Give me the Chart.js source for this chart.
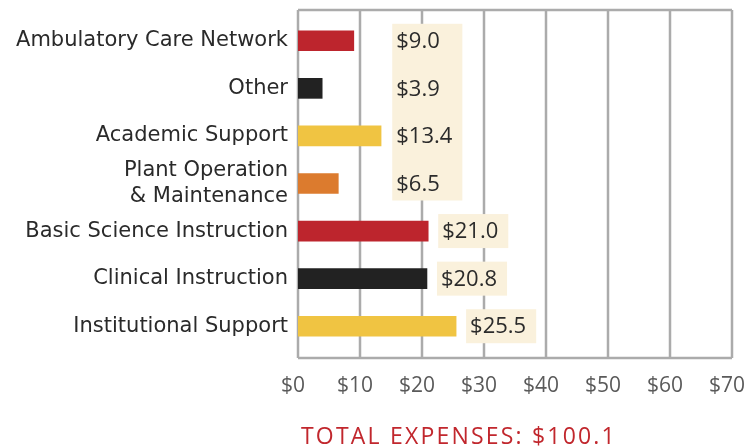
<!DOCTYPE html>
<html>
<head>
<meta charset="utf-8">
<script src="https://cdn.jsdelivr.net/npm/chart.js@4"></script>
<style>
  html, body { margin: 0; padding: 0; background: #fff; }
</style>
</head>
<body>
<canvas id="chart" width="744" height="448"></canvas>
<script>
const categories = [
  'Ambulatory Care Network',
  'Other',
  'Academic Support',
  ['Plant Operation', '& Maintenance'],
  'Basic Science Instruction',
  'Clinical Instruction',
  'Institutional Support'
];
const expenses = [9.0, 3.9, 13.4, 6.5, 21.0, 20.8, 25.5];
const barColors = ['#bd252d', '#222222', '#f0c442', '#dc7b2e', '#bd252d', '#222222', '#f0c442'];
const tickValues = [0, 10, 20, 30, 40, 50, 60, 70];
const totalLabel = 'TOTAL EXPENSES: $100.1';

const lineGray = '#ababab';
const fontFamily = '"Open Sans", sans-serif';
const frameTop = 7;     // frame runs a little past the bar band
const frameBottom = 8;

const valueBoxes = {
  id: 'valueBoxes',
  beforeDatasetsDraw(chart) {
    // grid + frame, drawn a bit taller than the category band
    const { ctx, chartArea, scales: { x } } = chart;
    const top = chartArea.top - frameTop;
    const bottom = chartArea.bottom + frameBottom;
    ctx.save();
    ctx.strokeStyle = lineGray;
    ctx.lineWidth = 2.5;
    ctx.beginPath();
    x.ticks.forEach(t => {
      const px = x.getPixelForValue(t.value);
      ctx.moveTo(px, top);
      ctx.lineTo(px, bottom);
    });
    ctx.moveTo(chartArea.left, top);
    ctx.lineTo(chartArea.right, top);
    ctx.moveTo(chartArea.left, bottom);
    ctx.lineTo(chartArea.right, bottom);
    ctx.stroke();
    ctx.restore();
  },
  afterDatasetsDraw(chart) {
    // cream boxes behind the value labels; labels that fit left of the column share one box
    const { ctx, scales: { x } } = chart;
    const bars = chart.getDatasetMeta(0).data;
    const colPx = x.getPixelForValue(15.2);
    ctx.save();
    ctx.font = '22px ' + fontFamily;
    const boxes = bars.map((bar, i) => {
      const text = '$' + expenses[i].toFixed(1);
      const left = Math.max(colPx, bar.x + 10);
      return { text, w: ctx.measureText(text).width, left, cy: bar.y, inCol: left === colPx };
    });
    ctx.fillStyle = '#faf1dc';
    let i = 0;
    while (i < boxes.length) {
      let j = i;
      if (boxes[i].inCol) {
        while (j + 1 < boxes.length && boxes[j + 1].inCol) j++;
      }
      const wMax = Math.max(...boxes.slice(i, j + 1).map(b => b.w));
      ctx.fillRect(boxes[i].left, boxes[i].cy - 17, wMax + 14, boxes[j].cy - boxes[i].cy + 34);
      i = j + 1;
    }
    ctx.fillStyle = '#2b2b2b';
    ctx.textBaseline = 'middle';
    boxes.forEach(b => ctx.fillText(b.text, b.left + 4, b.cy + 1));
    ctx.restore();
  },
  afterDraw(chart) {
    const { ctx, chartArea } = chart;
    ctx.save();
    ctx.fillStyle = '#c1272d';
    ctx.font = '23px ' + fontFamily;
    ctx.letterSpacing = '2.2px';
    ctx.textBaseline = 'middle';
    ctx.fillText(totalLabel, chartArea.left + 3, 437);
    ctx.restore();
  }
};

new Chart(document.getElementById('chart'), {
  type: 'bar',
  data: {
    labels: categories,
    datasets: [{
      data: expenses,
      backgroundColor: barColors,
      borderWidth: 0,
      barThickness: 20
    }]
  },
  options: {
    indexAxis: 'y',
    responsive: false,
    animation: false,
    layout: { padding: { top: 17, right: 12, left: 0, bottom: 0 } },
    plugins: {
      legend: { display: false },
      tooltip: { enabled: false }
    },
    scales: {
      x: {
        min: 0,
        max: 70,
        afterBuildTicks: scale => { scale.ticks = tickValues.map(v => ({ value: v })); },
        afterFit: scale => { scale.height = 98; scale.paddingLeft = 0; scale.paddingRight = 0; },
        grid: { display: false, drawTicks: false },
        border: { display: false },
        ticks: {
          padding: 23,
          labelOffset: -5,
          color: '#5a5a5a',
          font: { family: fontFamily, size: 21 },
          callback: v => '$' + v
        }
      },
      y: {
        afterFit: scale => { scale.width = 298; scale.paddingTop = 0; scale.paddingBottom = 0; },
        grid: { display: false, drawTicks: false },
        border: { display: false },
        ticks: {
          autoSkip: false,
          padding: 10,
          color: '#2a2a2a',
          font: { family: '"DejaVu Sans", sans-serif', size: 21, lineHeight: 1.28 }
        }
      }
    }
  },
  plugins: [valueBoxes]
});
</script>
</body>
</html>
